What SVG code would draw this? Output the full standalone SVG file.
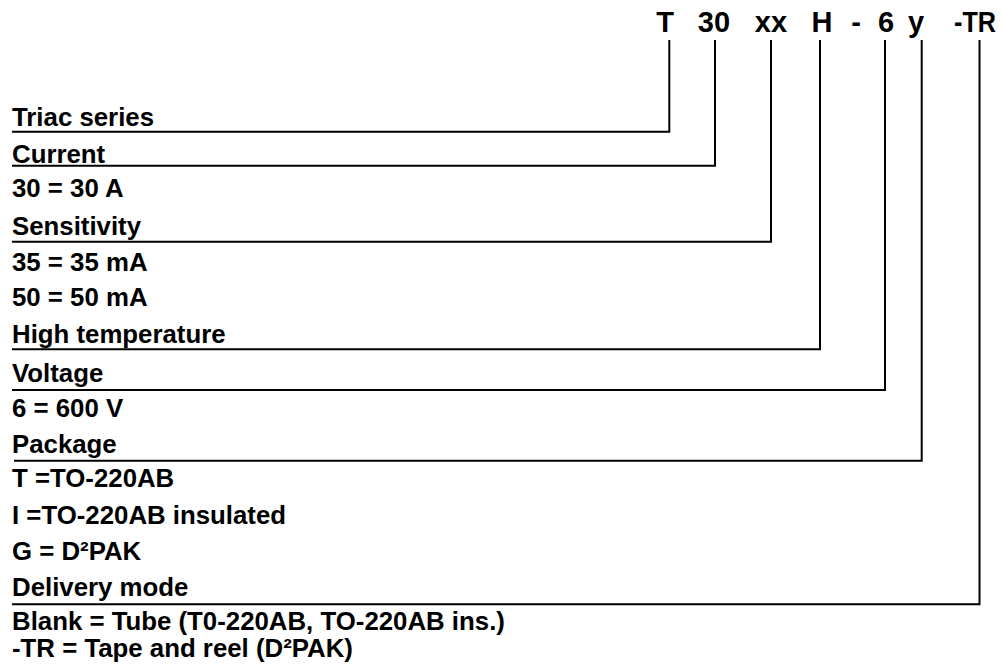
<svg xmlns="http://www.w3.org/2000/svg" width="1003" height="670" viewBox="0 0 1003 670">
<style>
text{font-family:"Liberation Sans",Arial,sans-serif;font-weight:bold;fill:#000}
.lbl{font-size:25.8px}
.code{font-size:29px;text-anchor:middle}
.ln{fill:none;stroke:#000;stroke-width:2}
</style>
<rect width="1003" height="670" fill="#fff"/>
<g id="code">
<text class="code" x="665" y="32">T</text>
<text class="code" x="714" y="32">30</text>
<text class="code" x="771" y="32">xx</text>
<text class="code" x="822" y="32">H</text>
<text class="code" x="856" y="32">-</text>
<text class="code" x="886" y="32">6</text>
<text class="code" x="916" y="32">y</text>
<text class="code" x="954" y="32" style="text-anchor:start" textLength="42" lengthAdjust="spacingAndGlyphs">-TR</text>
</g>
<g id="connectors">
<polyline class="ln" points="669.3,40 669.3,131.7 12,131.7"/>
<polyline class="ln" points="715,40 715,165.7 12,165.7"/>
<polyline class="ln" points="771,40 771,241.7 12,241.7"/>
<polyline class="ln" points="820,40 820,349.3 12,349.3"/>
<polyline class="ln" points="885,40 885,390 12,390"/>
<polyline class="ln" points="921.7,40 921.7,460.7 14,460.7"/>
<polyline class="ln" points="979.5,40 979.5,604.3 12,604.3"/>
</g>
<g id="triac"><text class="lbl" x="12" y="126">Triac series</text></g>
<g id="current">
<text class="lbl" x="12" y="162.7">Current</text>
<text class="lbl" x="12" y="197.3">30 = 30 A</text>
</g>
<g id="sensitivity">
<text class="lbl" x="12" y="235">Sensitivity</text>
<text class="lbl" x="12" y="271">35 = 35 mA</text>
<text class="lbl" x="12" y="306">50 = 50 mA</text>
</g>
<g id="hightemp"><text class="lbl" x="12" y="342.7">High temperature</text></g>
<g id="voltage">
<text class="lbl" x="12" y="381.7">Voltage</text>
<text class="lbl" x="12" y="417.3">6 = 600 V</text>
</g>
<g id="package">
<text class="lbl" x="12" y="452.7">Package</text>
<text class="lbl" x="12" y="486.7">T =TO-220AB</text>
<text class="lbl" x="12" y="524">I =TO-220AB insulated</text>
<text class="lbl" x="12" y="560">G = D²PAK</text>
</g>
<g id="delivery">
<text class="lbl" x="12" y="596">Delivery mode</text>
<text class="lbl" x="12" y="630">Blank = Tube (T0-220AB, TO-220AB ins.)</text>
<text class="lbl" x="12" y="656.7">-TR = Tape and reel (D²PAK)</text>
</g>
</svg>
